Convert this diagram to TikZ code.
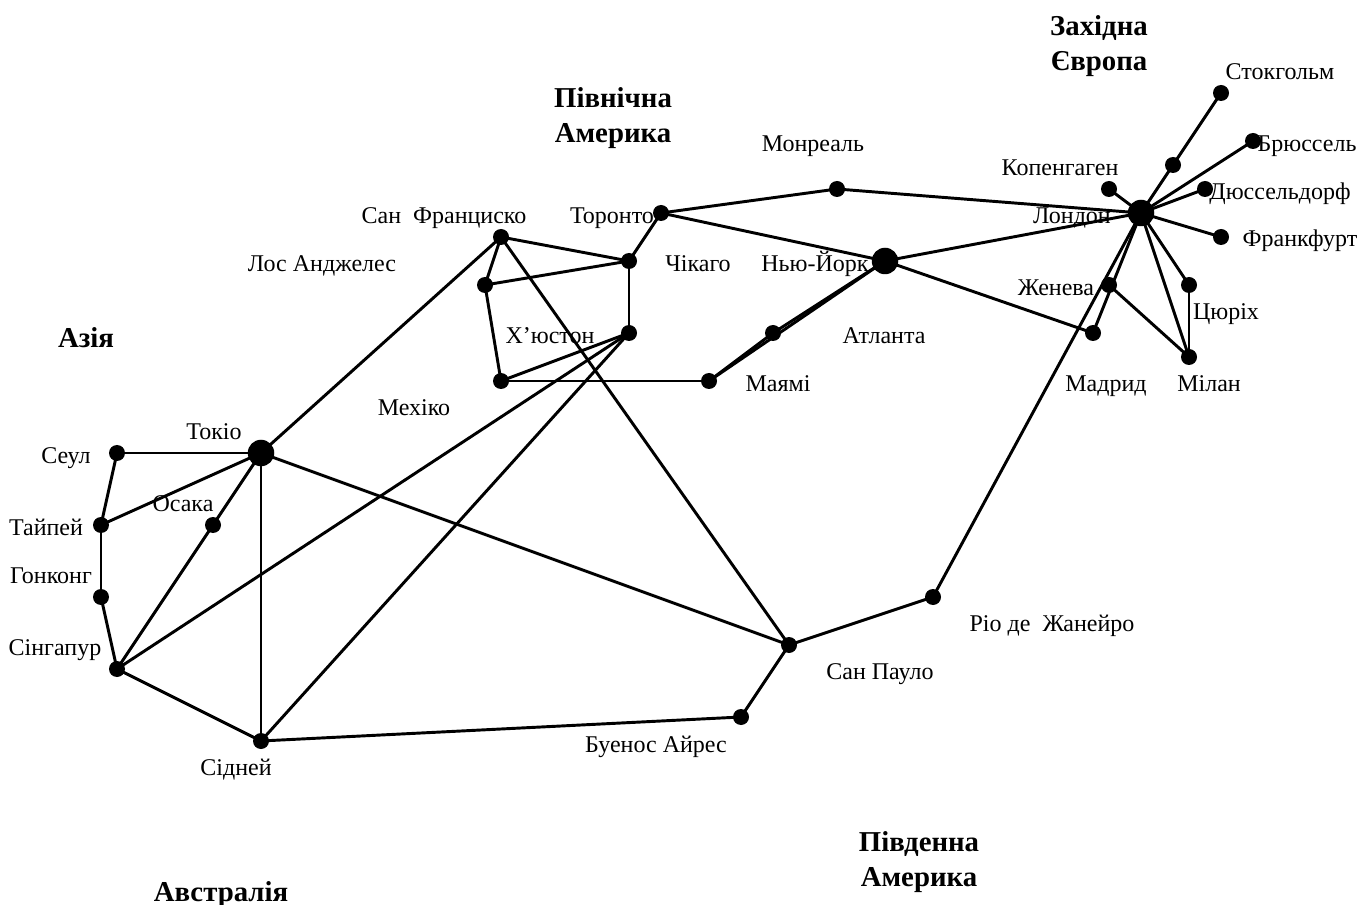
\documentclass[tikz,border=0pt]{standalone}
\usepackage{fontspec}
\setmainfont{Liberation Serif}
\tikzset{
  city/.style={circle,fill=black,inner sep=0pt,minimum size=16pt*0.75},
  hub/.style={circle,fill=black,inner sep=0pt,minimum size=26.5pt*0.75},
  lab/.style={inner sep=0pt,anchor=mid,yshift=-4pt,font=\fontsize{18pt}{21pt}\selectfont},
  region/.style={inner sep=0pt,align=center,font=\fontsize{21.6pt}{26pt}\selectfont\bfseries},
  link/.style={line width=2.2pt,black}
}
\begin{document}
\begin{tikzpicture}[x=0.75pt,y=-0.75pt]
\useasboundingbox (0,0) rectangle (1371,905);
% hubs and cities
\node[hub] (london) at (1141,213) {};
\node[hub] (newyork) at (885,261) {};
\node[hub] (tokyo) at (261,453) {};
\node[city] (stockholm) at (1221,93) {};
\node[city] (scand) at (1173,165) {};
\node[city] (brussels) at (1253,141) {};
\node[city] (dusseldorf) at (1205,189) {};
\node[city] (copenhagen) at (1109,189) {};
\node[city] (frankfurt) at (1221,237) {};
\node[city] (zurich) at (1189,285) {};
\node[city] (geneva) at (1109,285) {};
\node[city] (madrid) at (1093,333) {};
\node[city] (milan) at (1189,357) {};
\node[city] (montreal) at (837,189) {};
\node[city] (toronto) at (661,213) {};
\node[city] (chicago) at (629,261) {};
\node[city] (sf) at (501,237) {};
\node[city] (la) at (485,285) {};
\node[city] (houston) at (629,333) {};
\node[city] (atlanta) at (773,333) {};
\node[city] (mexico) at (501,381) {};
\node[city] (miami) at (709,381) {};
\node[city] (seoul) at (117,453) {};
\node[city] (taipei) at (101,525) {};
\node[city] (osaka) at (213,525) {};
\node[city] (hongkong) at (101,597) {};
\node[city] (singapore) at (117,669) {};
\node[city] (sydney) at (261,741) {};
\node[city] (buenos) at (741,717) {};
\node[city] (saopaulo) at (789,645) {};
\node[city] (rio) at (933,597) {};
% connectors
\foreach \a/\b in {stockholm/scand,scand/london,brussels/london,dusseldorf/london,copenhagen/london,frankfurt/london,zurich/london,milan/london,zurich/milan,geneva/milan,madrid/london,madrid/newyork,montreal/london,toronto/montreal,toronto/newyork,newyork/london,toronto/chicago,chicago/sf,chicago/la,chicago/houston,sf/la,la/mexico,mexico/houston,mexico/miami,miami/atlanta,atlanta/newyork,miami/newyork,houston/singapore,houston/sydney,sf/tokyo,sf/saopaulo,tokyo/seoul,tokyo/taipei,tokyo/osaka,osaka/singapore,tokyo/sydney,tokyo/saopaulo,seoul/taipei,taipei/hongkong,hongkong/singapore,singapore/sydney,sydney/buenos,buenos/saopaulo,saopaulo/rio,rio/london}
  \draw[link] (\a.center) -- (\b.center);
% labels
\node[lab] (l1) at (1280,71) {Стокгольм};
\node[lab] (l2) at (1307,143) {Брюссель};
\node[lab] (l3) at (1280,191) {Дюссельдорф};
\node[lab] (l4) at (1300,238) {Франкфурт};
\node[lab] (l5) at (1060,167) {Копенгаген};
\node[lab] (l6) at (1072,215) {Лондон};
\node[lab] (l7) at (1056,287) {Женева};
\node[lab] (l8) at (1226,311) {Цюріх};
\node[lab] (l9) at (1106,383) {Мадрид};
\node[lab] (l10) at (1209,383) {Мілан};
\node[lab] (l11) at (813,143) {Монреаль};
\node[lab] (l12) at (444,215) {Сан\ \ Франциско};
\node[lab] (l13) at (612,215) {Торонто};
\node[lab] (l14) at (322,263) {Лос Анджелес};
\node[lab] (l15) at (698,263) {Чікаго};
\node[lab] (l16) at (815,263) {Нью-Йорк};
\node[lab] (l17) at (550,335) {Х’юстон};
\node[lab] (l18) at (884,335) {Атланта};
\node[lab] (l19) at (778,383) {Маямі};
\node[lab] (l20) at (414,407) {Мехіко};
\node[lab] (l21) at (214,431) {Токіо};
\node[lab] (l22) at (66,455) {Сеул};
\node[lab] (l23) at (46,527) {Тайпей};
\node[lab] (l24) at (183,503) {Осака};
\node[lab] (l25) at (51,575) {Гонконг};
\node[lab] (l26) at (55,647) {Сінгапур};
\node[lab] (l27) at (236,767) {Сідней};
\node[lab] (l28) at (656,744) {Буенос Айрес};
\node[lab] (l29) at (880,671) {Сан Пауло};
\node[lab] (l30) at (1052,623) {Ріо де\ \ Жанейро};
\node[region] (r1) at (1099,46) {Західна\\Європа};
\node[region] (r2) at (613,118) {Північна\\Америка};
\node[region] (r3) at (86,338) {Азія};
\node[region] (r4) at (221,895) {Австралія};
\node[region] (r5) at (919,862) {Південна\\Америка};
\end{tikzpicture}
\end{document}
